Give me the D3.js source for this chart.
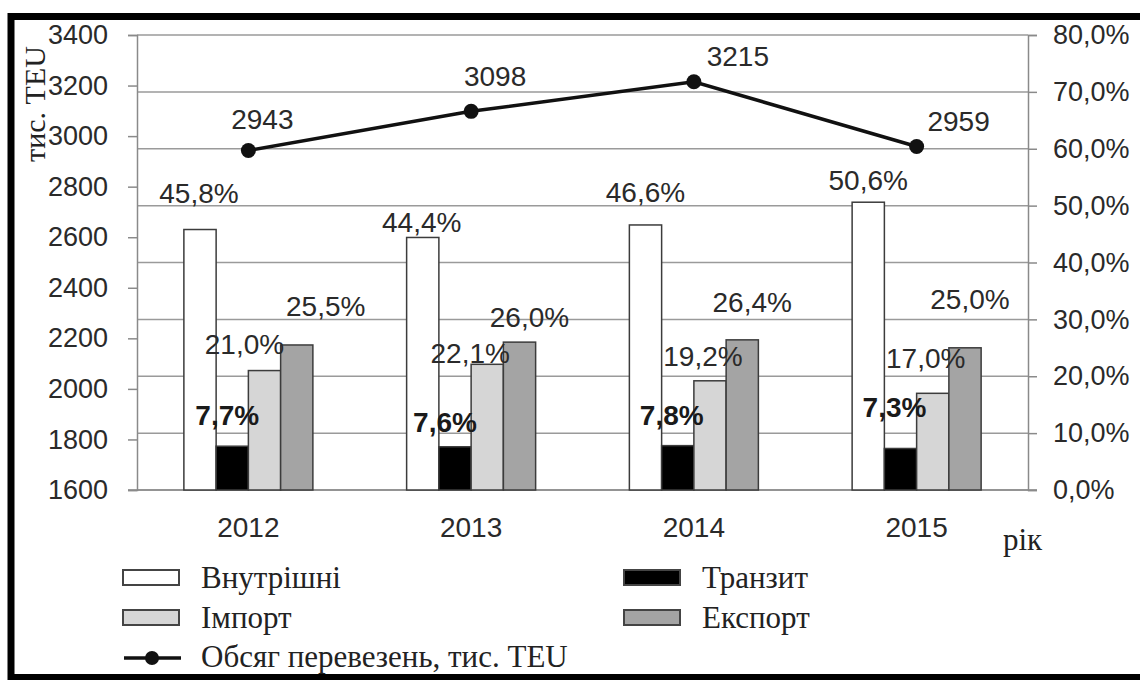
<!DOCTYPE html>
<html>
<head>
<meta charset="utf-8">
<script src="https://cdn.jsdelivr.net/npm/d3@7"></script>
<style>
  html, body { margin: 0; padding: 0; background: #fff; }
  svg { display: block; }
</style>
</head>
<body>
<svg id="chart" width="1140" height="680"></svg>
<script>
// ---- data ----
const years = ["2012", "2013", "2014", "2015"];
const domestic = [45.8, 44.4, 46.6, 50.6];
const transit = [7.7, 7.6, 7.8, 7.3];
const imports = [21.0, 22.1, 19.2, 17.0];
const exports = [25.5, 26.0, 26.4, 25.0];
const volume = [2943, 3098, 3215, 2959];
const leftTicks = [1600, 1800, 2000, 2200, 2400, 2600, 2800, 3000, 3200, 3400];
const rightTicks = [0, 10, 20, 30, 40, 50, 60, 70, 80];
const seriesNames = ["Внутрішні", "Транзит", "Імпорт", "Експорт"];
const lineName = "Обсяг перевезень, тис. TEU";
const leftTitle = "тис. TEU";
const xTitle = "рік";

// ---- layout / style (not data) ----
const plot = { left: 137, right: 1028, top: 35, bottom: 490 };
const groupW = 129;
const fills = ["#ffffff", "#000000", "#d6d6d6", "#a4a4a4"];
const labelFont = "Liberation Sans, Arial, sans-serif";
const serif = "Liberation Serif, Times New Roman, serif";
const serifSize = 31;
// manual label offsets (relative to bar center / top), as in the original
const offsets = [
  [[-1, -36], [-1, -15], [0, -32], [0, -22]],     // Внутрішні
  [[-5, -31], [-10, -24], [-6, -30], [-6, -41]],  // Транзит
  [[-20, -26], [-17, -11], [-7, -24], [-7, -35]], // Імпорт
  [[29, -38], [10, -25], [10, -37], [5, -48]]     // Експорт
];
const lineOffsets = [[14, -31], [24, -35], [44, -25], [42, -25]];

const svg = d3.select("#chart");
const seriesVals = [domestic, transit, imports, exports];

const x = d3.scaleBand().domain(years).range([plot.left, plot.right]);
const inner = d3.scaleBand().domain(d3.range(4)).range([0, groupW]);
const yL = d3.scaleLinear().domain([1600, 3400]).range([plot.bottom, plot.top]);
const yR = d3.scaleLinear().domain([0, 80]).range([plot.bottom, plot.top]);
const gx = y => x(y) + (x.bandwidth() - groupW) / 2;

// gridlines (right axis)
svg.append("g").selectAll("line").data(rightTicks).join("line")
  .attr("x1", plot.left).attr("x2", plot.right)
  .attr("y1", d => yR(d)).attr("y2", d => yR(d))
  .attr("stroke", "#9a9a9a").attr("stroke-width", 1.5);

// left axis
const gL = svg.append("g").attr("transform", `translate(${plot.left},0)`)
  .call(d3.axisLeft(yL).tickValues(leftTicks).tickSize(9).tickPadding(20).tickFormat(d3.format("d")));
gL.select(".domain").attr("stroke", "#8a8a8a").attr("stroke-width", 1.5);
gL.selectAll(".tick line").attr("stroke", "#8a8a8a").attr("stroke-width", 1.5);
gL.selectAll(".tick text").attr("font-family", labelFont).attr("font-size", 27).attr("fill", "#2a2a2a");

// right axis
const gR = svg.append("g").attr("transform", `translate(${plot.right},0)`)
  .call(d3.axisRight(yR).tickValues(rightTicks).tickSize(9).tickPadding(16)
    .tickFormat(d => d3.format(".1f")(d).replace(".", ",") + "%"));
gR.select(".domain").attr("stroke", "#8a8a8a").attr("stroke-width", 1.5);
gR.selectAll(".tick line").attr("stroke", "#8a8a8a").attr("stroke-width", 1.5);
gR.selectAll(".tick text").attr("font-family", labelFont).attr("font-size", 27).attr("fill", "#2a2a2a");

// bottom line
svg.append("line").attr("x1", plot.left - 9).attr("x2", plot.right + 9)
  .attr("y1", plot.bottom).attr("y2", plot.bottom)
  .attr("stroke", "#8a8a8a").attr("stroke-width", 1.5);

// bars
seriesVals.forEach((vals, s) => {
  svg.append("g").selectAll("rect").data(vals).join("rect")
    .attr("x", (d, i) => gx(years[i]) + inner(s))
    .attr("width", inner.bandwidth())
    .attr("y", d => yR(d))
    .attr("height", d => plot.bottom - yR(d))
    .attr("fill", fills[s])
    .attr("stroke", "#3c3c3c").attr("stroke-width", 1.5);
});

// bar labels
seriesVals.forEach((vals, s) => {
  svg.append("g").selectAll("text").data(vals).join("text")
    .attr("x", (d, i) => gx(years[i]) + inner(s) + inner.bandwidth() / 2 + offsets[s][i][0])
    .attr("y", (d, i) => yR(d) + offsets[s][i][1])
    .attr("text-anchor", "middle").attr("dominant-baseline", "central")
    .attr("font-family", labelFont).attr("font-size", 28)
    .attr("font-weight", s === 1 ? "bold" : "normal")
    .attr("fill", s === 1 ? "#1a1a1a" : "#2a2a2a")
    .text(d => d3.format(".1f")(d).replace(".", ",") + "%");
});

// line
const cx = (d, i) => x(years[i]) + x.bandwidth() / 2;
svg.append("path").datum(volume)
  .attr("d", d3.line().x(cx).y(d => yL(d)))
  .attr("fill", "none").attr("stroke", "#111").attr("stroke-width", 3.5);
svg.append("g").selectAll("circle").data(volume).join("circle")
  .attr("cx", cx).attr("cy", d => yL(d)).attr("r", 7.5).attr("fill", "#111");
svg.append("g").selectAll("text").data(volume).join("text")
  .attr("x", (d, i) => cx(d, i) + lineOffsets[i][0])
  .attr("y", (d, i) => yL(d) + lineOffsets[i][1])
  .attr("text-anchor", "middle").attr("dominant-baseline", "central")
  .attr("font-family", labelFont).attr("font-size", 28).attr("fill", "#2a2a2a")
  .text(d => d);

// x category labels
svg.append("g").selectAll("text").data(years).join("text")
  .attr("x", d => x(d) + x.bandwidth() / 2).attr("y", 537)
  .attr("text-anchor", "middle")
  .attr("font-family", labelFont).attr("font-size", 28).attr("fill", "#2a2a2a")
  .text(d => d);
svg.append("text").attr("x", 1003).attr("y", 550)
  .style("font-family", serif).attr("font-size", serifSize).attr("fill", "#222")
  .text(xTitle);

// left axis title
svg.append("text").attr("transform", "translate(45,104) rotate(-90)")
  .attr("text-anchor", "middle")
  .style("font-family", serif).attr("font-size", 30).attr("fill", "#222")
  .text(leftTitle);

// legend
const legendItems = [
  { name: seriesNames[0], fill: fills[0], x: 123, y: 577 },
  { name: seriesNames[1], fill: fills[1], x: 624, y: 577 },
  { name: seriesNames[2], fill: fills[2], x: 123, y: 617 },
  { name: seriesNames[3], fill: fills[3], x: 624, y: 617 }
];
const lg = svg.append("g");
legendItems.forEach(it => {
  lg.append("rect").attr("x", it.x).attr("y", it.y - 7).attr("width", 56).attr("height", 15)
    .attr("fill", it.fill).attr("stroke", "#444").attr("stroke-width", 2);
  lg.append("text").attr("x", it.x + 78).attr("y", it.y)
    .attr("dominant-baseline", "central")
    .style("font-family", serif).attr("font-size", serifSize).attr("fill", "#222")
    .text(it.name);
});
lg.append("line").attr("x1", 124).attr("x2", 181).attr("y1", 658).attr("y2", 658)
  .attr("stroke", "#111").attr("stroke-width", 3.5);
lg.append("circle").attr("cx", 152).attr("cy", 658).attr("r", 7).attr("fill", "#111");
lg.append("text").attr("x", 201).attr("y", 656)
  .attr("dominant-baseline", "central")
  .style("font-family", serif).attr("font-size", serifSize).attr("fill", "#222")
  .text(lineName);

// frame
svg.append("rect").attr("x", 11).attr("y", 16.5).attr("width", 1200).attr("height", 661)
  .attr("fill", "none").attr("stroke", "#000").attr("stroke-width", 7);
</script>
</body>
</html>
